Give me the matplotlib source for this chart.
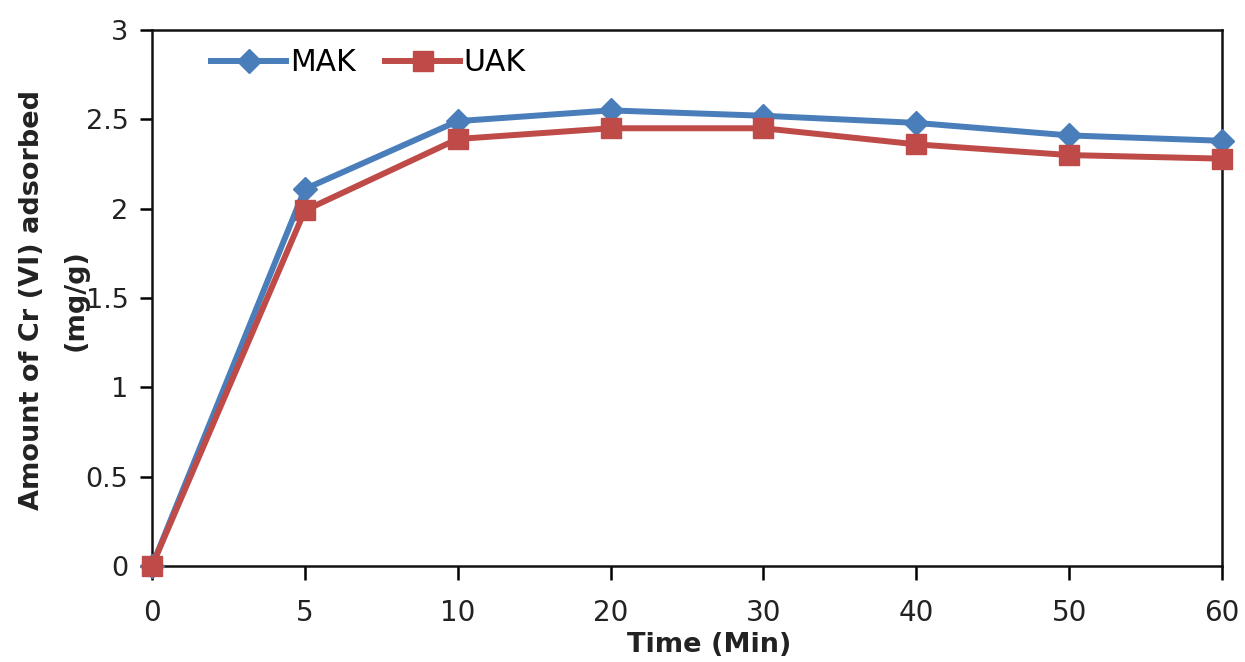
import matplotlib
matplotlib.use("Agg")
import matplotlib.pyplot as plt

time_labels = ["0", "5", "10", "20", "30", "40", "50", "60"]
mak = [0.0, 2.11, 2.49, 2.55, 2.52, 2.48, 2.41, 2.38]
uak = [0.0, 1.99, 2.39, 2.45, 2.45, 2.36, 2.30, 2.28]
y_ticks = [0, 0.5, 1, 1.5, 2, 2.5, 3]
y_tick_labels = ["0", "0.5", "1", "1.5", "2", "2.5", "3"]

plt.rcParams['font.family'] = ['DejaVu Sans']

fig = plt.figure(figsize=(12.45, 6.62), dpi=100)
ax = fig.add_axes([152/1245, 1 - 566/662, (1222-152)/1245, (566-30)/662])

x = list(range(len(time_labels)))
ax.plot(x, mak, color='#4A7EBB', lw=4.3, marker='D', ms=12, label='MAK', zorder=3)
ax.plot(x, uak, color='#BE4B48', lw=4.3, marker='s', ms=15, label='UAK', zorder=4)

ax.set_xlim(0, len(time_labels) - 1)
ax.set_ylim(0, 3)
ax.set_xticks(x)
ax.set_xticklabels(time_labels, fontsize=20, color='#222222')
ax.set_yticks(y_ticks)
ax.set_yticklabels(y_tick_labels, fontsize=19.5, color='#222222')
ax.tick_params(axis='x', direction='out', length=10, width=1.8, pad=14)
ax.tick_params(axis='y', direction='out', length=9, width=1.8, pad=8)

for s in ax.spines.values():
    s.set_linewidth(1.8)
    s.set_color('#111111')
    s.set_clip_on(False)
for ln in ax.get_lines():
    ln.set_clip_on(False)

ax.set_xlabel("Time (Min)", fontsize=19.5, fontweight='bold', color='#222222')
ax.xaxis.set_label_coords((709-152)/(1222-152), -(645-566)/(566-30), transform=ax.transAxes)
ax.xaxis.label.set_va('center')

fig.text(32/1245, 1 - 300/662, "Amount of Cr (VI) adsorbed", rotation=90, fontsize=19.5,
         fontweight='bold', ha='center', va='center', color='#222222')
fig.text(76/1245, 1 - 300/662, "(mg/g)", rotation=90, fontsize=19.5,
         fontweight='bold', ha='center', va='center', color='#222222')

leg = ax.legend(loc='upper left', bbox_to_anchor=(0.036, 1.005), ncol=2, frameon=False,
                fontsize=21.5, handlelength=2.5, columnspacing=1.0, handletextpad=0.12,
                borderaxespad=0.3)

fig.savefig("out.png", dpi=100)
